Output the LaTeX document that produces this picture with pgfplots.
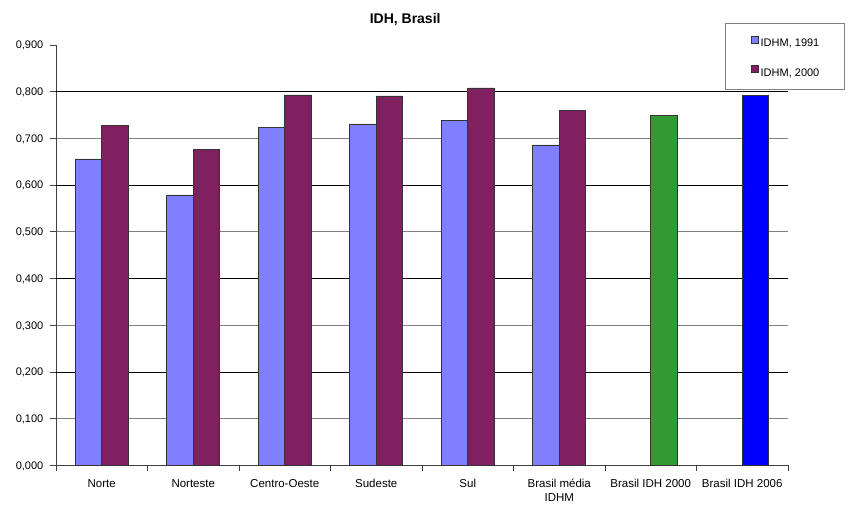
\documentclass[border=0pt]{standalone}
\usepackage{pgfplots}
\pgfplotsset{compat=1.18}
\usepackage{fontspec}
\setmainfont{Liberation Sans}
\definecolor{c91}{RGB}{128,128,255}
\definecolor{c00}{RGB}{128,32,96}
\definecolor{cgreen}{RGB}{51,153,51}
\definecolor{cblue}{RGB}{0,0,255}
\begin{document}
\begin{tikzpicture}
\begin{axis}[
  name=ax,
  scale only axis, width=732pt, height=420.3pt,
  xmin=-0.5, xmax=7.5, ymin=0, ymax=0.9,
  axis x line*=bottom, axis y line*=left,
  x axis line style={-}, y axis line style={-},
  axis line style={black!75, line width=0.8pt},
  tick style={black!75, line width=0.8pt},
  tick align=outside,
  major tick length=6pt,
  ytick={0,0.1,0.2,0.3,0.4,0.5,0.6,0.7,0.8,0.9},
  yticklabels={{0,000},{0,100},{0,200},{0,300},{0,400},{0,500},{0,600},{0,700},{0,800},{0,900}},
  yticklabel style={font=\fontsize{11}{13}\selectfont, anchor=east, inner sep=0pt, text depth=0pt, xshift=-6.5pt},
  minor ytick={0.1,0.3,0.5,0.7},
  minor tick length=0pt,
  yminorgrids,
  minor grid style={gray, line width=0.8pt},
  extra y ticks={0.2,0.4,0.6,0.8},
  extra y tick labels={},
  extra y tick style={grid=major, major grid style={black, line width=0.8pt}, major tick length=0pt},
  xtick={-0.5,0.5,1.5,2.5,3.5,4.5,5.5,6.5,7.5},
  x tick label as interval,
  xticklabels={Norte,Norteste,Centro-Oeste,Sudeste,Sul,{Brasil média\\IDHM},Brasil IDH 2000,Brasil IDH 2006},
  xticklabel style={font=\fontsize{11.5}{13.5}\selectfont, align=center, anchor=north, inner sep=0pt, yshift=-8pt},
  title={IDH, Brasil},
  title style={font=\bfseries\fontsize{14}{16}\selectfont, at={(axis description cs:0.477,1)}, anchor=base, yshift=16pt},
  legend style={at={(axis description cs:0.9139,1.0524)}, anchor=north west, draw=gray, line width=1.2pt,
    font=\fontsize{11}{13}\selectfont, nodes={inner sep=0pt}, inner xsep=25pt, inner ysep=12pt, row sep=17.7pt,
    /tikz/every odd column/.append style={column sep=2.5pt}},
  legend image code/.code={\draw[#1, line width=0.6pt, draw=black!80] (0pt,0.3pt) rectangle (7pt,7.3pt);},
  legend cell align=left,
]
\addplot[ybar, bar width=26.5pt, bar shift=-13.25pt, fill=c91, draw=black!80, line width=0.7pt]
  coordinates {(0,0.656)(1,0.579)(2,0.724)(3,0.731)(4,0.739)(5,0.686)};
\addlegendentry{IDHM, 1991}
\addplot[ybar, bar width=26.5pt, bar shift=13.25pt, fill=c00, draw=black!80, line width=0.7pt]
  coordinates {(0,0.727)(1,0.676)(2,0.793)(3,0.791)(4,0.808)(5,0.759)};
\addlegendentry{IDHM, 2000}
\addplot[ybar, bar width=26.5pt, bar shift=13.25pt, fill=cgreen, draw=black!80, line width=0.7pt, forget plot]
  coordinates {(6,0.750)};
\addplot[ybar, bar width=26.5pt, bar shift=13.25pt, fill=cblue, draw=black!80, line width=0.7pt, forget plot]
  coordinates {(7,0.793)};
\end{axis}
\path (ax.south west) ++(-56pt,-38.7pt) rectangle ++(848pt,504pt);
\end{tikzpicture}
\end{document}
